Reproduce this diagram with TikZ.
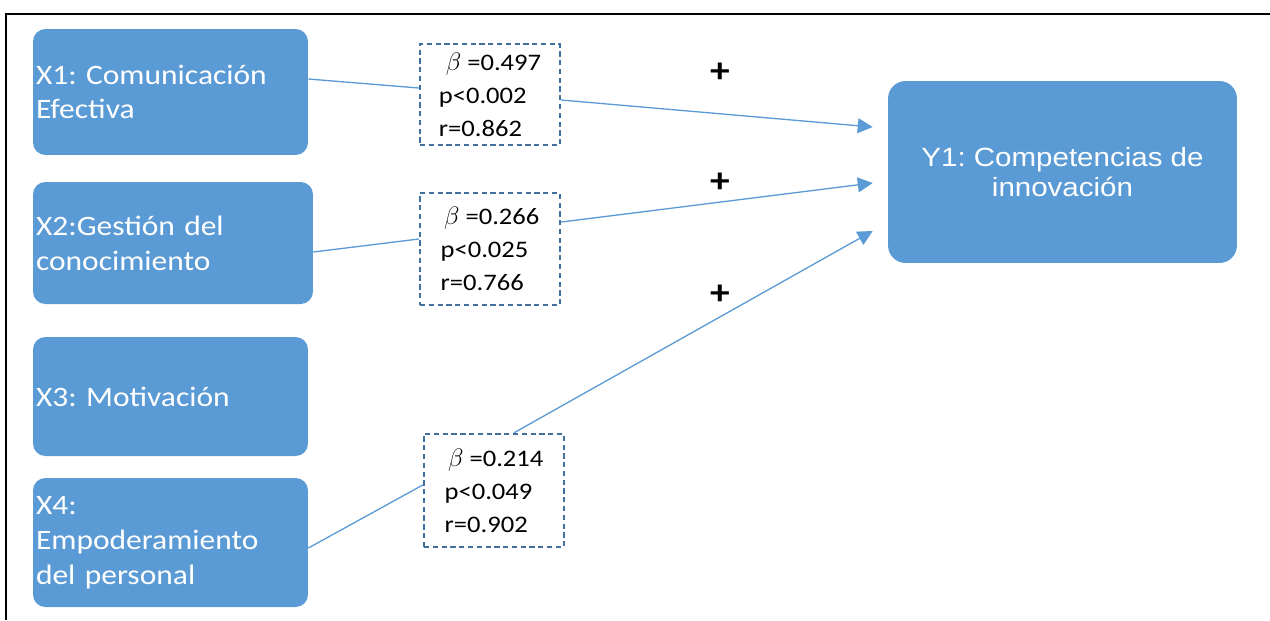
\documentclass[tikz,border=0pt]{standalone}
\usepackage{fontspec}
\setmainfont{Carlito}[FakeStretch=1.12]
\newfontfamily\arialfont{Liberation Sans}[FakeStretch=1.12]
\usetikzlibrary{arrows.meta, positioning}
\definecolor{boxblue}{RGB}{91, 155, 213}
\definecolor{dashblue}{RGB}{65, 113, 156}
\definecolor{linkblue}{RGB}{91, 155, 213}
\frenchspacing

\begin{document}
\begin{tikzpicture}[x=0.02cm, y=-0.02cm,
    varbox/.style={fill=boxblue, draw=none, rounded corners=7pt, text=white,
        font=\fontsize{16}{19.8}\selectfont, align=left, text width=5.38cm,
        inner xsep=0.06cm, inner ysep=0pt},
    resultbox/.style={fill=boxblue, draw=none, rounded corners=10pt, text=white,
        font=\arialfont\fontsize{15}{17}\selectfont, align=center,
        minimum width=6.98cm, minimum height=3.64cm},
    statbox/.style={draw=dashblue, line width=1.4pt, dash pattern=on 3pt off 2pt,
        fill=white, align=left, font=\fontsize{13.5}{18.8}\selectfont,
        minimum width=2.8cm, inner sep=0pt},
    link/.style={draw=linkblue, line width=0.75pt},
    plus/.style={font=\bfseries\fontsize{20}{20}\selectfont, inner sep=0pt}]

    \useasboundingbox (0,0) rectangle (1270,620);

    % ==========================================
    % --- Frame ---
    % ==========================================
    \draw[line width=1.1pt] (6,620) -- (6,14) -- (1270,14);

    % ==========================================
    % --- Variables ---
    % ==========================================
    \node[varbox, minimum height=2.52cm] (x1) at (170.5,92) {X1: Comunicación\\Efectiva};
    \node[varbox, minimum height=2.44cm, text width=5.48cm] (x2) at (173,243) {X2:Gestión del\\conocimiento};
    \node[varbox, minimum height=2.38cm] (x3) at (170.5,396.5) {X3: Motivación};
    \node[varbox, minimum height=2.58cm] (x4) at (170.5,542.5) {X4:\\Empoderamiento\\del personal};

    \node[resultbox] (y1) at (1062.5,172) {Y1: Competencias de\\innovación};

    % ==========================================
    % --- Coefficients ---
    % ==========================================
    \node[statbox, minimum height=2.02cm] (b1) at (490,94.5) {\hspace{4pt}$\beta$ =0.497\\p<0.002\\r=0.862};
    \node[statbox, minimum height=2.24cm] (b2) at (490,249) {\hspace{2pt}$\beta$ =0.266\\p<0.025\\r=0.766};
    \node[statbox, minimum height=2.26cm] (b3) at (494,490.5) {\hspace{2pt}$\beta$ =0.214\\p<0.049\\r=0.902};

    % Signs
    \node[plus] (p1) at (720,73) {+};
    \node[plus] (p2) at (720,183) {+};
    \node[plus] (p3) at (720,295) {+};

    % ==========================================
    % --- Paths ---
    % ==========================================
    \draw[link] ([yshift=0.26cm]x1.east) -- ([yshift=0.13cm]b1.west);
    \draw[link, -{Triangle[length=8.5pt, width=8.5pt]}] ([yshift=-0.11cm]b1.east) -- ([xshift=-0.3cm, yshift=0.9cm]y1.west);

    \draw[link] ([yshift=-0.18cm]x2.east) -- ([yshift=0.2cm]b2.west);
    \draw[link, -{Triangle[length=8.5pt, width=8.5pt]}] ([yshift=0.54cm]b2.east) -- ([xshift=-0.3cm, yshift=-0.22cm]y1.west);

    \draw[link] ([yshift=-0.11cm]x4.east) -- ([yshift=0.11cm]b3.west);
    \draw[link, -{Triangle[length=8.5pt, width=8.5pt]}] ([xshift=0.4cm]b3.north) -- ([xshift=-0.3cm, yshift=-1.18cm]y1.west);

\end{tikzpicture}
\end{document}
